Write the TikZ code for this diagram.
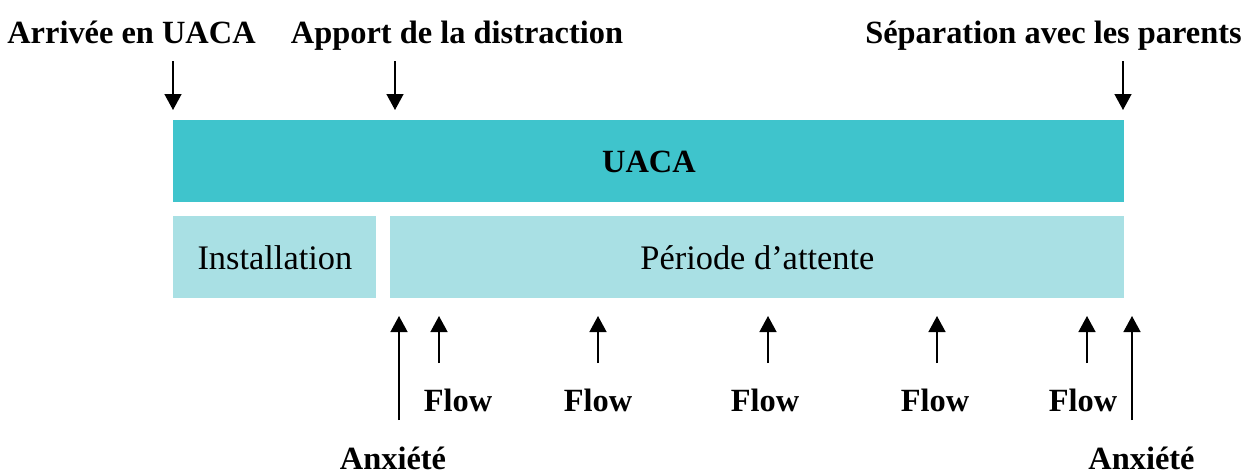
\documentclass[tikz,border=0pt]{standalone}
\usepackage{fontspec}
\setmainfont{Liberation Serif}
\usetikzlibrary{arrows.meta}
\definecolor{uacateal}{HTML}{3FC4CC}
\definecolor{attentelight}{HTML}{A9E0E4}
\tikzset{
  bar/.style={draw=none, inner sep=0pt, anchor=north west},
  lbl/.style={font=\fontsize{16.2}{18}\selectfont\bfseries, inner sep=0pt, anchor=base},
  phase/.style={font=\fontsize{17.2}{19}\selectfont, inner sep=0pt},
  arr/.style={line width=0.7pt, -{Triangle[width=8.5pt,length=8pt]}}
}
\begin{document}
\begin{tikzpicture}[x=0.5pt, y=-0.5pt]
            \useasboundingbox (0,0) rectangle (1249,473);

            % Draw the bars
            \node[bar, fill=uacateal, minimum width=475.5pt, minimum height=41pt] (uaca) at (173,120) {};
            \node[lbl] (uacatxt) at (649,172) {UACA};
            \node[bar, fill=attentelight, minimum width=101.5pt, minimum height=41pt] (install) at (173,216) {};
            \node[phase] (installtxt) at (install.center) {Installation};
            \node[bar, fill=attentelight, minimum width=367pt, minimum height=41pt] (attente) at (390,216) {};
            \node[phase] (attentetxt) at (attente.center) {Période d’attente};

            % Draw the labels on top
            \node[lbl] (arrivee) at (131.5,43) {Arrivée en UACA};
            \node[lbl] (apport) at (457,43) {Apport de la distraction};
            \node[lbl] (separation) at (1053.5,43) {Séparation avec les parents};

            % Draw the arrows going down
            \coordinate (d1s) at (173,61);   \coordinate (d1e) at (173,110);
            \coordinate (d2s) at (395,61);   \coordinate (d2e) at (395,110);
            \coordinate (d3s) at (1123,61);  \coordinate (d3e) at (1123,110);
            \draw[arr] (d1s) -- (d1e);
            \draw[arr] (d2s) -- (d2e);
            \draw[arr] (d3s) -- (d3e);

            % Draw the labels below
            \node[lbl] (flow1) at (458,411) {Flow};
            \node[lbl] (flow2) at (598,411) {Flow};
            \node[lbl] (flow3) at (765,411) {Flow};
            \node[lbl] (flow4) at (935,411) {Flow};
            \node[lbl] (flow5) at (1083,411) {Flow};
            \node[lbl] (anx1) at (393,469) {Anxiété};
            \node[lbl] (anx2) at (1141.5,469) {Anxiété};

            % Draw the arrows going up
            \coordinate (u1s) at (399,420);  \coordinate (u1e) at (399,316);
            \coordinate (u2s) at (439,363);  \coordinate (u2e) at (439,316);
            \coordinate (u3s) at (598,363);  \coordinate (u3e) at (598,316);
            \coordinate (u4s) at (768,363);  \coordinate (u4e) at (768,316);
            \coordinate (u5s) at (937,363);  \coordinate (u5e) at (937,316);
            \coordinate (u6s) at (1087,363); \coordinate (u6e) at (1087,316);
            \coordinate (u7s) at (1132,420); \coordinate (u7e) at (1132,316);
            \draw[arr] (u1s) -- (u1e);
            \draw[arr] (u2s) -- (u2e);
            \draw[arr] (u3s) -- (u3e);
            \draw[arr] (u4s) -- (u4e);
            \draw[arr] (u5s) -- (u5e);
            \draw[arr] (u6s) -- (u6e);
            \draw[arr] (u7s) -- (u7e);

        \end{tikzpicture}
\end{document}
